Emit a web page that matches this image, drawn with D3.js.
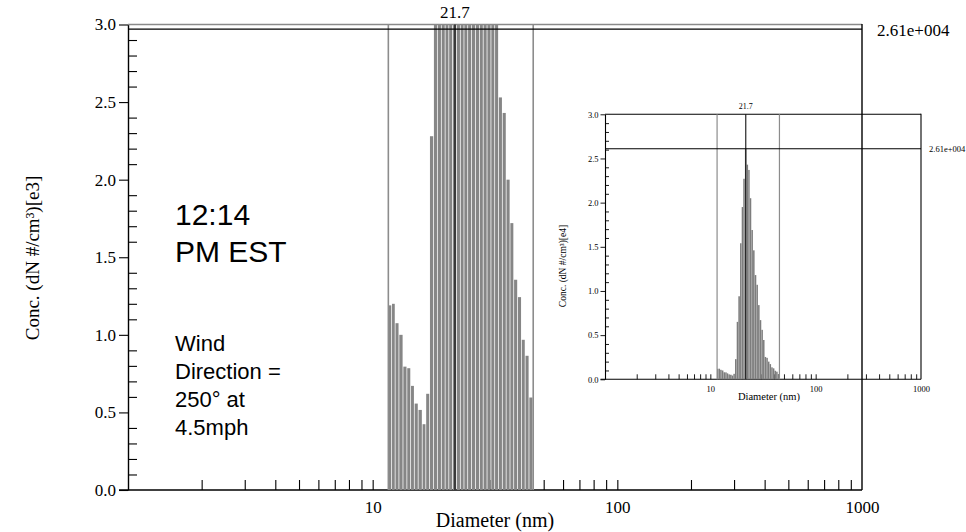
<!DOCTYPE html>
<html><head><meta charset="utf-8">
<script src="https://cdn.jsdelivr.net/npm/d3@7/dist/d3.min.js"></script>
<style>body{margin:0;background:#fff}svg{display:block}</style>
</head><body>
<svg id="chart" width="966" height="532"></svg>
<script>
// ---- data (SMPS channels, 64 per decade; midpoint diameters in nm, dN in #/cm³) ----
const diameters = [11.8,12.2,12.6,13.1,13.6,14.1,14.6,15.1,15.7,16.3,16.8,17.5,18.1,18.8,19.5,20.2,20.9,21.7,22.5,23.3,24.1,25.0,25.9,26.9,27.9,28.9,30.0,31.1,32.2,33.4,34.6,35.9,37.2,38.5,40.0,41.4,42.9,44.5];
const concentrations = [1190,1200,1075,1000,795,785,671,557,516,424,620,2280,6500,9400,15400,19500,22700,26100,24300,23700,20500,16900,14600,11800,10700,8400,6700,5600,4450,2530,2430,2000,1720,1355,1243,968,865,596];
const yTicks = [0,0.5,1.0,1.5,2.0,2.5,3.0];
const xLabelTicks = [10,100,1000];
const xTitle = "Diameter (nm)";
const mainYTitle = "Conc. (dN #/cm³)[e3]";
const insetYTitle = "Conc. (dN #/cm³)[e4]";
const noteTime = ["12:14","PM EST"];
const noteWind = ["Wind","Direction =","250° at","4.5mph"];

const SERIF = "'Liberation Serif','Times New Roman',serif";
const SANS = "'Liberation Sans',Arial,sans-serif";
const svg = d3.select("#chart");

const peakIdx = d3.maxIndex(concentrations);
const peakValue = concentrations[peakIdx];
const modeDiameter = diameters[peakIdx];
const fmtPeak = v => { const e = Math.floor(Math.log10(v)); return (v / 10 ** e).toFixed(2) + "e+" + String(e).padStart(3, "0"); };
const half = Math.pow(10, 1 / 128);
const edges = diameters.map((d, i) => {
  const lo = i === 0 ? d / half : Math.sqrt(d * diameters[i - 1]);
  const hi = i === diameters.length - 1 ? d * half : Math.sqrt(d * diameters[i + 1]);
  return [lo, hi];
});
const minorX = [];
[1, 10, 100].forEach(dec => { for (let m = 2; m <= 9; m++) minorX.push(m * dec); });
minorX.push(10, 100);
const minorY = d3.range(0, 31).filter(i => i % 5 !== 0).map(i => i / 10);

function panel(c) {
  const x = d3.scaleLog().domain([1, 1000]).range([c.x0, c.x1]);
  const y = d3.scaleLinear().domain([0, 3]).range([c.y0, c.y1]).clamp(true);
  const g = svg.append("g");
  const vals = concentrations.map(v => v / c.unit);

  g.append("g").attr("transform", `translate(${c.x0},0)`)
    .call(d3.axisRight(y).tickValues(minorY).tickSize(c.minorLen).tickFormat(""))
    .call(a => a.select(".domain").remove())
    .selectAll("line").attr("stroke", "#000").attr("stroke-width", c.tickW);
  g.append("g").attr("transform", `translate(${c.x0},0)`)
    .call(d3.axisLeft(y).tickValues(yTicks).tickSize(c.majorLen).tickSizeOuter(0).tickPadding(c.yPad).tickFormat(d3.format(".1f")))
    .call(a => { a.select(".domain").attr("stroke", "#000").attr("stroke-width", c.axisW);
      a.selectAll("line").attr("stroke", "#000").attr("stroke-width", c.tickW);
      a.selectAll("text").attr("font-family", SERIF).attr("font-size", c.tickFont).attr("fill", "#000"); });
  g.append("g").attr("transform", `translate(0,${c.y0})`)
    .call(d3.axisTop(x).tickValues(minorX).tickSize(c.xTickLen).tickFormat(""))
    .call(a => a.select(".domain").remove())
    .selectAll("line").attr("stroke", "#000").attr("stroke-width", c.tickW);
  g.append("g").attr("transform", `translate(0,${c.y0})`)
    .call(d3.axisBottom(x).tickValues(xLabelTicks).tickSize(0).tickPadding(c.xPad).tickFormat(d3.format("d")))
    .call(a => { a.select(".domain").remove();
      a.selectAll("text").attr("font-family", SERIF).attr("font-size", c.tickFont).attr("fill", "#000"); });
  g.append("line").attr("x1", c.x0 - c.majorLen).attr("x2", c.x1).attr("y1", y(0)).attr("y2", y(0))
    .attr("stroke", "#000").attr("stroke-width", c.axisW);

  g.append("g").selectAll("rect").data(vals).join("rect")
    .attr("x", (v, i) => x(edges[i][0]))
    .attr("width", (v, i) => Math.max(0.3, x(edges[i][1]) - x(edges[i][0]) - c.gap))
    .attr("y", v => y(v))
    .attr("height", v => y(0) - y(v))
    .attr("fill", c.barColor);

  g.append("line").attr("x1", c.x0).attr("x2", c.x1).attr("y1", y(3)).attr("y2", y(3))
    .attr("stroke", c.topColor).attr("stroke-width", c.topW);
  g.append("line").attr("x1", c.x1).attr("x2", c.x1).attr("y1", y(3) - 0.5).attr("y2", y(0))
    .attr("stroke", "#000").attr("stroke-width", c.axisW);
  [edges[0][0], edges[edges.length - 1][1]].forEach(d => {
    g.append("line").attr("x1", x(d)).attr("x2", x(d)).attr("y1", y(3)).attr("y2", y(0))
      .attr("stroke", "#8c8c8c").attr("stroke-width", c.boundW);
  });
  g.append("line").attr("x1", x(modeDiameter)).attr("x2", x(modeDiameter)).attr("y1", y(3)).attr("y2", y(0))
    .attr("stroke", "#111").attr("stroke-width", c.modeW);
  const py = y(Math.min(peakValue / c.unit, 3 * 0.99));
  g.append("line").attr("x1", c.x0).attr("x2", c.x1).attr("y1", py).attr("y2", py)
    .attr("stroke", "#000").attr("stroke-width", c.modeW);
  g.append("text").attr("x", c.x1 + c.peakDx).attr("y", py + c.peakDy).attr("fill", "#000")
    .attr("font-family", SERIF).attr("font-size", c.tickFont).text(fmtPeak(peakValue));
  g.append("text").attr("x", x(modeDiameter)).attr("y", y(3) - c.modeDy).attr("text-anchor", "middle")
    .attr("font-family", SERIF).attr("font-size", c.modeFont).text(String(modeDiameter));
  g.append("text").attr("x", c.xTitleX).attr("y", c.xTitleY).attr("text-anchor", "middle")
    .attr("font-family", SERIF).attr("font-size", c.titleFont).text(xTitle);
  g.append("text").attr("transform", `translate(${c.yTitleX},${c.yTitleY}) rotate(-90)`).attr("text-anchor", "middle")
    .attr("font-family", SERIF).attr("font-size", c.yTitleFont).text(c.yTitle);
}

// main chart (e3)
panel({x0: 128, x1: 862, y0: 490, y1: 24.5, unit: 1000,
  minorLen: 9, majorLen: 9, xTickLen: 10, yPad: 3, xPad: 11, tickW: 1.1, axisW: 1.4,
  tickFont: 17, modeFont: 17, titleFont: 20, yTitleFont: 19, gap: 0.75, barColor: "#868686",
  topColor: "#8a8a8a", topW: 1.6, boundW: 1.6, modeW: 1.3,
  peakDx: 15, peakDy: 7, modeDy: 6.5,
  xTitleX: 495, xTitleY: 527, yTitleX: 39, yTitleY: 258, yTitle: mainYTitle});

// inset (e4)
panel({x0: 605, x1: 921, y0: 379.3, y1: 114.3, unit: 10000,
  minorLen: 4, majorLen: 4.5, xTickLen: 5, yPad: 2, xPad: 7, tickW: 0.9, axisW: 1.1,
  tickFont: 8.5, modeFont: 8, titleFont: 10.5, yTitleFont: 9.5, gap: 0.15, barColor: "#7d7d7d",
  topColor: "#000", topW: 1.1, boundW: 1.2, modeW: 1.1,
  peakDx: 8, peakDy: 3.5, modeDy: 5,
  xTitleX: 769, xTitleY: 400, yTitleX: 566, yTitleY: 266, yTitle: insetYTitle});

// annotations
const note = svg.append("g").attr("font-family", SANS).attr("fill", "#000");
note.selectAll("text.t").data(noteTime).join("text").attr("class", "t")
  .attr("x", 175).attr("y", (d, i) => 225 + i * 37).attr("font-size", 30).text(d => d);
note.selectAll("text.w").data(noteWind).join("text").attr("class", "w")
  .attr("x", 175).attr("y", (d, i) => 351 + i * 28).attr("font-size", 22).text(d => d);
</script>
</body></html>
